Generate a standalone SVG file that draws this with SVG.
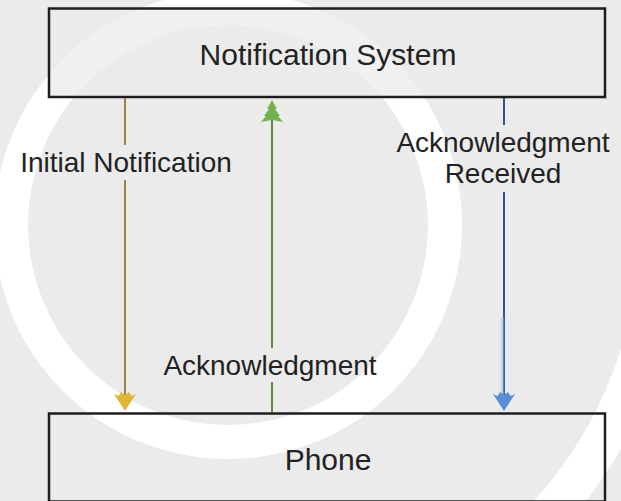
<svg xmlns="http://www.w3.org/2000/svg" width="621" height="501" viewBox="0 0 621 501">
  <defs>
    <style>
      .node-box { stroke: #1e1e1e; stroke-width: 2.5; }
      .node-text { font-family: "Liberation Sans", Arial, sans-serif; font-size: 30px; fill: #222; text-anchor: middle; }
      .label { font-family: "Liberation Sans", Arial, sans-serif; font-size: 28px; fill: #222; text-anchor: middle; }
      .wm { fill: none; stroke: #ffffff; }
    </style>
  </defs>
  <rect x="0" y="0" width="621" height="501" fill="#ebebeb"/>
  <g id="watermark">
    <circle class="wm" cx="228" cy="225" r="217" stroke-width="34"/>
    <path class="wm" d="M660,225 A432,432 0 0 1 228,657" stroke-width="40"/>
  </g>
  <g id="node-notification-system">
    <rect class="node-box" x="49" y="8.5" width="556" height="88.5" fill="#ebebeb" fill-opacity="0.75"/>
    <text class="node-text" x="328" y="65">Notification System</text>
  </g>
  <g id="node-phone">
    <rect class="node-box" x="49" y="413.5" width="556" height="88" fill="none"/>
    <text class="node-text" x="328" y="470">Phone</text>
  </g>
  <g id="connectors">
    <g id="edge-initial-notification">
      <line x1="125" y1="98" x2="125" y2="145" stroke="#9c8444" stroke-width="2"/>
      <line x1="125" y1="180" x2="125" y2="396" stroke="#9c8444" stroke-width="2"/>
      <path d="M125,411 L114,394 L118.5,396 L121,392 L125,395 L129,392 L131.5,396 L136,394 Z" fill="#e2b53d"/>
      <text class="label" x="126" y="172">Initial Notification</text>
    </g>
    <g id="edge-acknowledgment">
      <line x1="272" y1="412" x2="272" y2="382" stroke="#5a8a3a" stroke-width="2"/>
      <line x1="272" y1="348" x2="272" y2="118" stroke="#5a8a3a" stroke-width="2"/>
      <path d="M272,100 L277,109 L275,109 L280,116 L278,116 L283,122 L272,120 L261,122 L266,116 L264,116 L269,109 L267,109 Z" fill="#74b354"/>
      <text class="label" x="270" y="375">Acknowledgment</text>
    </g>
    <g id="edge-acknowledgment-received">
      <line x1="504" y1="98" x2="504" y2="125" stroke="#2f5290" stroke-width="2"/>
      <line x1="504" y1="192" x2="504" y2="396" stroke="#2f5290" stroke-width="2"/>
      <line x1="501.5" y1="317" x2="501.5" y2="398" stroke="#cfdcec" stroke-width="2"/>
      <line x1="503.5" y1="317" x2="503.5" y2="398" stroke="#5b86c4" stroke-width="1.5"/>
      <path d="M504,411 L493,394 L497.5,396 L500,392 L504,395 L508,392 L510.5,396 L515,394 Z" fill="#5a8ed4"/>
      <text class="label" x="503" y="152">Acknowledgment</text>
      <text class="label" x="503" y="183">Received</text>
    </g>
  </g>
</svg>
